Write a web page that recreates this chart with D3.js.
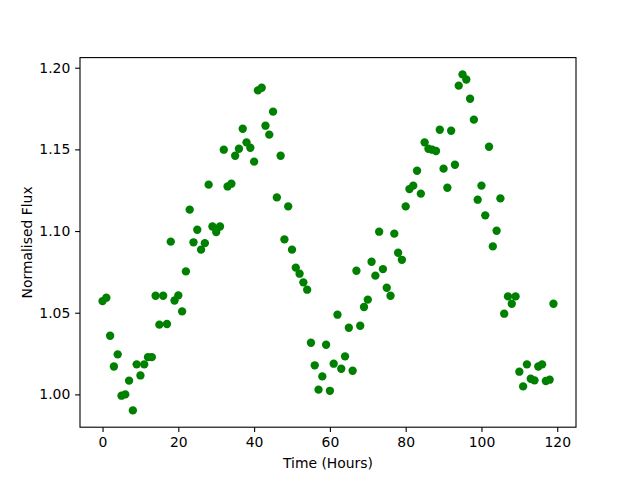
<!DOCTYPE html>
<html>
<head>
<meta charset="utf-8">
<script src="https://cdn.jsdelivr.net/npm/d3@7"></script>
<style>
  body { margin: 0; background: #fff; }
  svg { font-family: "DejaVu Sans", sans-serif; }
</style>
</head>
<body>
<div id="chart"></div>
<script>
// hourly normalised flux readings
var hours = d3.range(0, 120);
var flux = [
  1.0571, 1.0592, 1.0359, 1.0171, 1.0245, 0.9992, 1.0000, 1.0084, 0.9902, 1.0184,
  1.0116, 1.0184, 1.0228, 1.0228, 1.0604, 1.0427, 1.0604, 1.0431, 1.0935, 1.0575,
  1.0606, 1.0508, 1.0753, 1.1131, 1.0931, 1.1008, 1.0886, 1.0926, 1.1284, 1.1028,
  1.0994, 1.1028, 1.1498, 1.1273, 1.1290, 1.1461, 1.1504, 1.1626, 1.1543, 1.1510,
  1.1425, 1.1861, 1.1877, 1.1645, 1.1590, 1.1731, 1.1206, 1.1461, 1.0949, 1.1151,
  1.0886, 1.0776, 1.0739, 1.0686, 1.0641, 1.0316, 1.0178, 1.0029, 1.0110, 1.0304,
  1.0022, 1.0188, 1.0488, 1.0157, 1.0233, 1.0408, 1.0145, 1.0757, 1.0420, 1.0535,
  1.0580, 1.0812, 1.0727, 1.0996, 1.0767, 1.0653, 1.0604, 1.0984, 1.0867, 1.0824,
  1.1151, 1.1257, 1.1278, 1.1369, 1.1229, 1.1543, 1.1504, 1.1498, 1.1490, 1.1620,
  1.1382, 1.1265, 1.1614, 1.1406, 1.1890, 1.1959, 1.1928, 1.1810, 1.1682, 1.1192,
  1.1278, 1.1096, 1.1516, 1.0906, 1.1002, 1.1200, 1.0494, 1.0600, 1.0555, 1.0600,
  1.0139, 1.0049, 1.0184, 1.0096, 1.0086, 1.0171, 1.0184, 1.0082, 1.0090, 1.0555
];
var xTicks = [0, 20, 40, 60, 80, 100, 120];
var yTicks = [1.00, 1.05, 1.10, 1.15, 1.20];

var width = 640,
    height = 480,
    margin = { top: 57.6, right: 64, bottom: 52.8, left: 80 };

var svg = d3.select('#chart')
  .append('svg')
  .attr('width', width)
  .attr('height', height);

var plotW = width - margin.left - margin.right,
    plotH = height - margin.top - margin.bottom;

// 5% padding on both axes like matplotlib's autoscale
function padded(ext) {
  var pad = (ext[1] - ext[0]) * 0.05;
  return [ext[0] - pad, ext[1] + pad];
}

var x = d3.scaleLinear()
  .domain(padded(d3.extent(hours)))
  .range([0, plotW]);

var y = d3.scaleLinear()
  .domain(padded(d3.extent(flux)))
  .range([plotH, 0]);

var g = svg.append('g')
  .attr('transform', 'translate(' + margin.left + ',' + margin.top + ')');

var tickLen = 4.86;

var xAxis = g.append('g')
  .attr('transform', 'translate(0,' + plotH + ')')
  .call(d3.axisBottom(x).tickValues(xTicks).tickFormat(d3.format('d'))
    .tickSize(tickLen).tickPadding(4.86).tickSizeOuter(0));

var yAxis = g.append('g')
  .call(d3.axisLeft(y).tickValues(yTicks).tickFormat(d3.format('.2f'))
    .tickSize(tickLen).tickPadding(4.86).tickSizeOuter(0));

[xAxis, yAxis].forEach(function(ax) {
  ax.select('.domain').remove();
  ax.selectAll('.tick line').attr('stroke', '#000').attr('stroke-width', 1.1);
  ax.selectAll('.tick text')
    .attr('fill', '#000')
    .style('font-family', '"DejaVu Sans", sans-serif')
    .style('font-size', '13.9px');
});

// the points
g.append('g')
  .selectAll('circle')
  .data(hours)
  .enter().append('circle')
  .attr('cx', function(d) { return x(d); })
  .attr('cy', function(d, i) { return y(flux[i]); })
  .attr('r', 4.17)
  .attr('fill', '#008000');

// frame
g.append('rect')
  .attr('width', plotW)
  .attr('height', plotH)
  .attr('fill', 'none')
  .attr('stroke', '#000')
  .attr('stroke-width', 1.1);

svg.append('text')
  .attr('x', margin.left + plotW / 2)
  .attr('y', 468)
  .attr('text-anchor', 'middle')
  .style('font-size', '13.9px')
  .text('Time (Hours)');

svg.append('text')
  .attr('transform', 'translate(31.5,' + (margin.top + plotH / 2) + ') rotate(-90)')
  .attr('text-anchor', 'middle')
  .style('font-size', '13.9px')
  .text('Normalised Flux');
</script>
</body>
</html>
